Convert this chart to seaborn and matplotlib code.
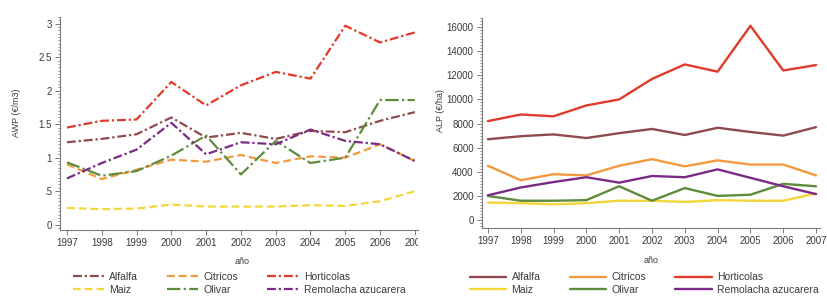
import numpy as np
import pandas as pd
import matplotlib.pyplot as plt
import seaborn as sns
from matplotlib.transforms import Bbox, TransformedBbox
from matplotlib.ticker import MultipleLocator

# datos
years = [1997, 1998, 1999, 2000, 2001, 2002, 2003, 2004, 2005, 2006, 2007]
cultivos = ["Alfalfa", "Citricos", "Horticolas", "Maiz", "Olivar", "Remolacha azucarera"]

awp_alfalfa = [1.23, 1.28, 1.35, 1.60, 1.30, 1.37, 1.28, 1.40, 1.38, 1.55, 1.68]
awp_citricos = [0.90, 0.68, 0.82, 0.97, 0.94, 1.04, 0.92, 1.02, 1.00, 1.20, 0.95]
awp_horticolas = [1.45, 1.55, 1.57, 2.13, 1.78, 2.08, 2.28, 2.18, 2.97, 2.72, 2.87]
awp_maiz = [0.25, 0.23, 0.24, 0.30, 0.27, 0.27, 0.27, 0.29, 0.28, 0.35, 0.50]
awp_olivar = [0.93, 0.73, 0.80, 1.03, 1.33, 0.75, 1.25, 0.92, 1.00, 1.86, 1.86]
awp_remolacha = [0.69, 0.92, 1.12, 1.52, 1.05, 1.23, 1.20, 1.42, 1.25, 1.20, 0.95]

alp_alfalfa = [6700, 6950, 7100, 6800, 7200, 7550, 7050, 7650, 7300, 7000, 7700]
alp_citricos = [4500, 3300, 3800, 3700, 4500, 5050, 4450, 4950, 4600, 4600, 3700]
alp_horticolas = [8200, 8750, 8600, 9500, 10000, 11700, 12900, 12300, 16100, 12400, 12850]
alp_maiz = [1450, 1400, 1300, 1400, 1600, 1600, 1500, 1650, 1600, 1600, 2200]
alp_olivar = [2000, 1600, 1600, 1650, 2800, 1600, 2650, 2000, 2100, 3000, 2800]
alp_remolacha = [2050, 2700, 3150, 3550, 3100, 3650, 3550, 4200, 3500, 2800, 2150]

colores = ["#8E4A4F", "#F39A3E", "#E23A2A", "#F2D63A", "#5E8C3C", "#7B2A86"]
pal = dict(zip(cultivos, colores))
dashes = {
    "Alfalfa": (4, 1.3, 1, 1.3),
    "Citricos": (3.5, 1.8),
    "Horticolas": (4, 1.3, 1, 1.3),
    "Maiz": (3.5, 1.8),
    "Olivar": (6, 1.5, 1, 1.5),
    "Remolacha azucarera": (4, 1.3, 1, 1.3),
}


def to_long(series):
    rows = []
    for c, vals in zip(cultivos, series):
        for y, v in zip(years, vals):
            rows.append({"año": y, "cultivo": c, "valor": v})
    return pd.DataFrame(rows)


df_awp = to_long([awp_alfalfa, awp_citricos, awp_horticolas, awp_maiz, awp_olivar, awp_remolacha])
df_alp = to_long([alp_alfalfa, alp_citricos, alp_horticolas, alp_maiz, alp_olivar, alp_remolacha])

sns.set_theme(style="ticks")
plt.rcParams["font.family"] = ["Liberation Sans", "DejaVu Sans"]
txt = "#3a3a3a"
gris = "#7a7a7a"

fig = plt.figure(figsize=(8.28, 2.97), dpi=100)
W, H = 828, 297
ax1 = fig.add_axes([60 / W, 1 - 230 / H, 358 / W, 213 / H])
ax2 = fig.add_axes([482 / W, 1 - 228 / H, 338 / W, 210 / H])

sns.lineplot(data=df_awp, x="año", y="valor", hue="cultivo", style="cultivo",
             palette=pal, dashes=dashes, linewidth=1.6, ax=ax1)
sns.lineplot(data=df_alp, x="año", y="valor", hue="cultivo",
             palette=pal, linewidth=1.7, ax=ax2)

order = [0, 3, 1, 4, 2, 5]
for ax, ylab, hl, xc, yc in [(ax1, "AWP (€/m3)", 3.0, 0.50, -0.25),
                             (ax2, "ALP (€/ha)", 3.5, 0.48, -0.265)]:
    h, l = ax.get_legend_handles_labels()
    ax.get_legend().remove()
    ax.legend([h[i] for i in order], [l[i] for i in order], ncol=3, loc="center",
              bbox_to_anchor=(xc, yc), frameon=False, fontsize=7.5, handlelength=hl,
              handletextpad=0.5, columnspacing=2.8, labelspacing=0.25,
              labelcolor=txt)
    ax.set_xticks(years)
    ax.set_xlabel("año", fontsize=6.5, color=txt)
    ax.set_ylabel(ylab, fontsize=6.5, color=txt)
    ax.tick_params(axis="both", labelsize=7, colors=gris, labelcolor=txt, length=3.5,
                   width=0.7, pad=2.5)
    ax.tick_params(axis="y", which="minor", length=1.8, width=0.6, colors=gris)
    for s in ["left", "bottom"]:
        ax.spines[s].set_color(gris)
        ax.spines[s].set_linewidth(0.8)
    sns.despine(ax=ax)

ax1.set_xlim(1996.8, 2007.09)
ax1.set_ylim(-0.08, 3.1)
ax1.set_yticks([0, 0.5, 1, 1.5, 2, 2.5, 3])
ax1.set_yticklabels(["0", ".5", "1", "1.5", "2", "2.5", "3"])
ax1.yaxis.set_minor_locator(MultipleLocator(0.05))
ax1.yaxis.set_label_coords(-0.11, 0.55)
ax1.xaxis.set_label_coords(0.51, -0.125)

ax2.set_xlim(1996.82, 2007.12)
ax2.set_ylim(-660, 16750)
ax2.set_yticks(range(0, 16001, 2000))
ax2.yaxis.set_minor_locator(MultipleLocator(250))
ax2.yaxis.set_label_coords(-0.11, 0.56)
ax2.xaxis.set_label_coords(0.50, -0.135)

# el panel izquierdo esta recortado por la derecha
clip = TransformedBbox(Bbox([[0, 0], [418 / W, 1]]), fig.transFigure)
for t in ax1.get_xticklabels():
    t.set_clip_box(clip)
    t.set_clip_on(True)

fig.savefig("out.png", dpi=100, facecolor="white")
